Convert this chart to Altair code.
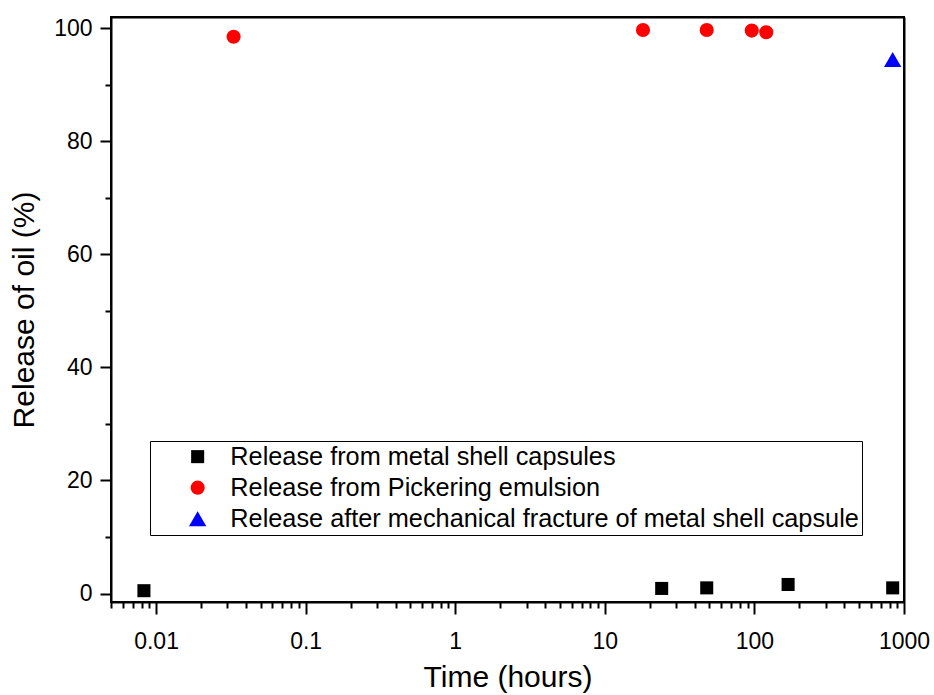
import altair as alt
import pandas as pd

series_names = [
    "Release from metal shell capsules",
    "Release from Pickering emulsion",
    "Release after mechanical fracture of metal shell capsule",
]

metal_time = [0.0083, 24, 48, 168, 840]
metal_release = [0.5, 0.9, 1.0, 1.6, 1.0]

pick_time = [0.033, 18, 48, 96, 120]
pick_release = [98.5, 99.7, 99.7, 99.6, 99.3]

frac_time = [840]
frac_release = [94.5]

x_tick_values = [0.005, 0.006, 0.007, 0.008, 0.009,
                 0.01, 0.02, 0.03, 0.04, 0.05, 0.06, 0.07, 0.08, 0.09,
                 0.1, 0.2, 0.3, 0.4, 0.5, 0.6, 0.7, 0.8, 0.9,
                 1, 2, 3, 4, 5, 6, 7, 8, 9,
                 10, 20, 30, 40, 50, 60, 70, 80, 90,
                 100, 200, 300, 400, 500, 600, 700, 800, 900, 1000]
y_tick_values = [0, 10, 20, 30, 40, 50, 60, 70, 80, 90, 100]

rows = []
for t, r in zip(metal_time, metal_release):
    rows.append({"time": t, "release": r, "series": series_names[0]})
for t, r in zip(pick_time, pick_release):
    rows.append({"time": t, "release": r, "series": series_names[1]})
for t, r in zip(frac_time, frac_release):
    rows.append({"time": t, "release": r, "series": series_names[2]})
df = pd.DataFrame(rows)

FONT = "Liberation Sans"
major_x = "abs(log(datum.value)/LN10 - round(log(datum.value)/LN10)) < 1e-6"
major_y = "datum.value % 20 === 0"

x_scale = alt.Scale(type="log", domain=[0.005, 1000], nice=False)
y_scale = alt.Scale(domain=[-1.5, 102], nice=False, zero=False)


def make_legend():
    return alt.Legend(
        title=None,
        orient="none",
        legendX=39,
        legendY=424,
        strokeColor="black",
        fillColor="white",
        padding=3,
        rowPadding=5,
        labelFontSize=25.3,
        labelFont=FONT,
        labelColor="black",
        labelLimit=900,
        symbolOffset=32,
        labelOffset=20,
    )


points = alt.Chart(df).mark_point(filled=True, opacity=1).encode(
    x=alt.X(
        "time:Q",
        scale=x_scale,
        axis=alt.Axis(
            title="Time (hours)",
            orient="bottom",
            values=x_tick_values,
            labelExpr=f"({major_x}) ? replace(datum.label, ',', '') : ''",
            tickSize={"condition": {"test": major_x, "value": 12}, "value": 6},
            labelOverlap=False,
            labelFlush=False,
            grid=False,
            labelFontSize=23,
            labelPadding=16,
            titleFontSize=30,
            titleFontWeight="normal",
            titlePadding=9,
        ),
    ),
    y=alt.Y(
        "release:Q",
        scale=y_scale,
        axis=alt.Axis(
            title="Release of oil (%)",
            orient="left",
            values=y_tick_values,
            labelExpr=f"({major_y}) ? datum.label : ''",
            tickSize={"condition": {"test": major_y, "value": 11}, "value": 6},
            labelOverlap=False,
            grid=False,
            labelFontSize=23,
            labelPadding=8,
            titleFontSize=30,
            titleFontWeight="normal",
            titlePadding=14,
        ),
    ),
    shape=alt.Shape(
        "series:N",
        scale=alt.Scale(domain=series_names, range=["square", "circle", "triangle-up"]),
        legend=make_legend(),
    ),
    color=alt.Color(
        "series:N",
        scale=alt.Scale(domain=series_names, range=["#000000", "#FF0000", "#0000FF"]),
        legend=make_legend(),
    ),
    size=alt.Size(
        "series:N",
        scale=alt.Scale(type="ordinal", domain=series_names, range=[170, 200, 300]),
        legend=make_legend(),
    ),
)

frame = alt.Chart(df).mark_point(opacity=0).encode(
    x=alt.X(
        "time:Q",
        scale=x_scale,
        axis=alt.Axis(orient="top", title=None, labels=False, ticks=False, grid=False),
    ),
    y=alt.Y(
        "release:Q",
        scale=y_scale,
        axis=alt.Axis(orient="right", title=None, labels=False, ticks=False, grid=False),
    ),
)

chart = alt.layer(points, frame).resolve_axis(
    x="independent", y="independent"
).properties(
    width=793,
    height=585,
    background="white",
    autosize=alt.AutoSizeParams(type="none"),
    padding={"left": 111, "top": 17, "right": 30, "bottom": 93},
).configure_view(
    stroke="black", strokeWidth=2
).configure_axis(
    domainColor="black", domainWidth=2, tickColor="black", tickWidth=2,
    labelColor="black", titleColor="black", labelFont=FONT, titleFont=FONT,
)

chart.save("out.html", embed_options={"renderer": "svg", "actions": False})
